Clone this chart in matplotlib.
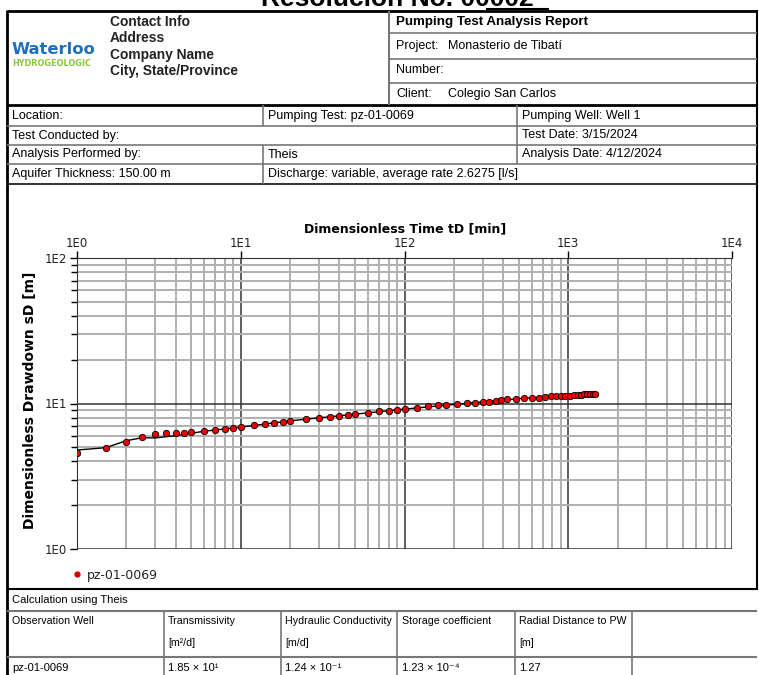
import numpy as np
import matplotlib.pyplot as plt
from matplotlib.ticker import LogLocator, FuncFormatter, NullFormatter

# observed points (dimensionless time, dimensionless drawdown)
t_obs = [1.0, 1.5, 2.0, 2.5, 3.0, 3.5, 4.0, 4.5, 5.0, 6.0, 7.0, 8.0, 9.0, 10.0,
         12.0, 14.0, 16.0, 18.0, 20.0, 25.0, 30.0, 35.0, 40.0, 45.0, 50.0, 60.0,
         70.0, 80.0, 90.0, 100.0, 120.0, 140.0, 160.0, 180.0, 210.0, 240.0, 270.0,
         300.0, 330.0, 360.0, 390.0, 420.0, 480.0, 540.0, 600.0, 660.0, 720.0,
         780.0, 840.0, 900.0, 960.0, 1020.0, 1080.0, 1140.0, 1200.0, 1250.0,
         1300.0, 1360.0, 1410.0, 1450.0]
s_obs = [4.57, 4.94, 5.46, 5.86, 6.17, 6.24, 6.24, 6.30, 6.40, 6.50, 6.61, 6.68,
         6.82, 6.90, 7.12, 7.23, 7.35, 7.46, 7.62, 7.83, 7.99, 8.11, 8.20, 8.38,
         8.47, 8.64, 8.88, 8.92, 9.06, 9.17, 9.36, 9.57, 9.72, 9.81, 9.87, 10.03,
         10.13, 10.24, 10.29, 10.40, 10.52, 10.68, 10.79, 10.86, 10.86, 10.96,
         11.08, 11.21, 11.26, 11.26, 11.26, 11.31, 11.39, 11.44, 11.50, 11.63,
         11.68, 11.68, 11.68, 11.68]

# fitted Theis curve as drawn
t_fit = [1.0, 1.5, 2.0, 2.5, 3.0, 4.0, 6.0, 10.0, 20.0, 50.0, 100.0, 200.0,
         500.0, 1000.0, 1450.0]
s_fit = [4.79, 4.97, 5.55, 5.82, 5.80, 6.01, 6.45, 6.88, 7.60, 8.45, 9.15,
         9.85, 10.80, 11.35, 11.68]

well_name = 'pz-01-0069'

W, H = 759, 675
fig = plt.figure(figsize=(W / 100, H / 100), dpi=100)

# page overlay in pixel coordinates
pg = fig.add_axes([0, 0, 1, 1])
pg.set_xlim(0, W)
pg.set_ylim(H, 0)
pg.axis('off')

arial = ['Liberation Sans', 'DejaVu Sans']
dark = '#222222'
grey = '#777777'


def hline(y, x0, x1, c=grey, lw=1.2):
    pg.plot([x0, x1], [y, y], color=c, lw=lw, solid_capstyle='butt')


def vline(x, y0, y1, c=grey, lw=1.2):
    pg.plot([x, x], [y0, y1], color=c, lw=lw, solid_capstyle='butt')


def txt(x, y, s, size=8, bold=False, color='black', fam=arial, **kw):
    pg.text(x, y, s, fontsize=size, fontweight='bold' if bold else 'normal',
            color=color, family=fam, va='center', ha=kw.pop('ha', 'left'), **kw)


# clipped page title
pg.text(397, 6, 'Resolución No. 00002', fontsize=19, fontweight='bold',
        family=arial, ha='center', va='baseline')
hline(9, 486, 549, c='black', lw=1.5)

# outer frame
L, R = 7, 757
vline(L, 10, H, c='black', lw=2)
vline(R, 10, 590, c='black', lw=1.5)
hline(11, L, R, c='black', lw=2)
hline(105, L, R, c='black', lw=2)

# header block
txt(12, 50, 'Waterloo', size=11.8, bold=True, color='#1f6fbf', fam=['DejaVu Sans'])
txt(12, 63, 'HYDROGEOLOGIC', size=5.9, bold=True, color='#8cc63e', fam=['DejaVu Sans'])
for i, s in enumerate(['Contact Info', 'Address', 'Company Name', 'City, State/Province']):
    txt(110, 22 + i * 16.3, s, size=9.9, bold=True, color='#222222')
vline(389, 11, 105, c=grey, lw=1.5)
for y in [33, 58.5, 83]:
    hline(y, 389, R)
txt(396, 22, 'Pumping Test Analysis Report', size=9.6, bold=True)
txt(396, 46, 'Project:', size=9)
txt(448, 46, 'Monasterio de Tibatí', size=9)
txt(396, 70, 'Number:', size=9)
txt(396, 94, 'Client:', size=9)
txt(448, 94, 'Colegio San Carlos', size=9)

# info rows
for y in [126, 145, 164]:
    hline(y, L, R)
hline(184, L, R, c=dark, lw=1.3)
vline(263, 105, 126)
vline(263, 145, 184)
vline(517, 105, 164)
rows = [(116, [(12, 'Location:'), (268, 'Pumping Test: pz-01-0069'), (522, 'Pumping Well: Well 1')]),
        (135.5, [(12, 'Test Conducted by:'), (522, 'Test Date: 3/15/2024')]),
        (154.5, [(12, 'Analysis Performed by:'), (268, 'Theis'), (522, 'Analysis Date: 4/12/2024')]),
        (174, [(12, 'Aquifer Thickness: 150.00 m'), (268, 'Discharge: variable, average rate 2.6275 [l/s]')])]
for y, cells in rows:
    for x, s in cells:
        txt(x, y, s, size=9)

# results table
hline(589, L, R, c='black', lw=1.5)
hline(611, L, R, c=grey, lw=1.5)
hline(657, L, R, c=grey, lw=1.5)
for x in [164, 281, 397, 515, 632]:
    vline(x, 611, H)
txt(12, 600, 'Calculation using Theis', size=8)
heads = [(12, 'Observation Well', ''), (168, 'Transmissivity', '[m²/d]'),
         (285, 'Hydraulic Conductivity', '[m/d]'), (402, 'Storage coefficient', ''),
         (519, 'Radial Distance to PW', '[m]')]
for x, a, b in heads:
    txt(x, 621, a, size=7.7)
    if b:
        txt(x, 643, b, size=7.7)
vals = [(12, well_name), (168, '1.85 × 10¹'), (285, '1.24 × 10⁻¹'),
        (402, '1.23 × 10⁻⁴'), (519, '1.27')]
for x, s in vals:
    txt(x, 668, s, size=8)

# legend
pg.plot([77], [574], 'o', color='#d00000', ms=3.5)
txt(87, 575, well_name, size=9, fam=['DejaVu Sans'], color='#222222')

# chart
x0, x1, y0, y1 = 77, 732, 258, 549
ax = fig.add_axes([x0 / W, 1 - y1 / H, (x1 - x0) / W, (y1 - y0) / H])
ax.set_xscale('log')
ax.set_yscale('log')
ax.set_xlim(1, 1e4)
ax.set_ylim(1, 100)
ax.patch.set_alpha(0)

ax.plot(t_fit, s_fit, color='black', lw=1, zorder=3)
ax.plot(t_obs, s_obs, 'o', color='#ee0000', mec='black', mew=0.6, ms=4.6, zorder=4)

fmt = FuncFormatter(lambda v, p: '1E%d' % round(np.log10(v)))
for a in (ax.xaxis, ax.yaxis):
    a.set_major_locator(LogLocator(base=10, numticks=10))
    a.set_minor_locator(LogLocator(base=10, subs=np.arange(2, 10), numticks=10))
    a.set_major_formatter(fmt)
    a.set_minor_formatter(NullFormatter())
ax.xaxis.tick_top()
ax.tick_params(axis='x', which='major', direction='out', length=5, width=1,
               labelsize=8.5, pad=1, colors='black')
ax.tick_params(axis='x', which='minor', length=0)
ax.tick_params(axis='y', which='major', direction='out', length=5, width=1,
               labelsize=8.5, pad=2)
ax.tick_params(axis='y', which='minor', direction='out', length=4, width=1)
for lab in ax.get_xticklabels() + ax.get_yticklabels():
    lab.set_color('#222222')
ax.grid(True, which='minor', color='#b0b0b0', lw=1.4, zorder=0)
ax.grid(True, which='major', color='#333333', lw=1.1, zorder=1)
for sp in ['right', 'bottom']:
    ax.spines[sp].set_visible(False)
ax.spines['left'].set_color('#333333')
ax.spines['top'].set_color('#333333')

txt(405, 229, 'Dimensionless Time tD [min]', size=9, bold=True, ha='center',
    fam=['DejaVu Sans'])
pg.text(30, 400, 'Dimensionless Drawdown sD [m]', fontsize=10, fontweight='bold',
        family='DejaVu Sans', rotation=90, ha='center', va='center')

plt.savefig('out.png', dpi=100)
